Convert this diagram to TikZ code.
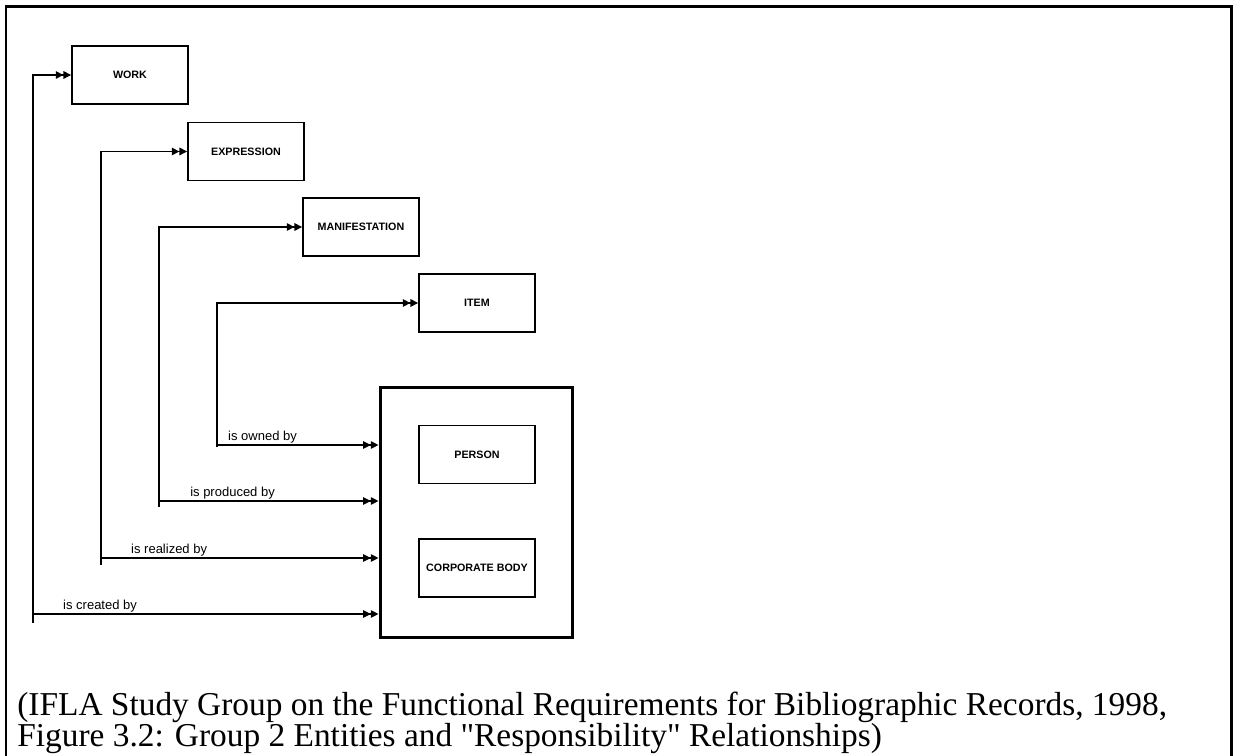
\documentclass[tikz,border=0pt]{standalone}
\usepackage{fontspec}
\newfontfamily\serifa{Liberation Serif}
\newfontfamily\arial{Liberation Sans}
\usetikzlibrary{arrows.meta}

\begin{document}
\begin{tikzpicture}[x=0.02cm, y=-0.02cm]
        \tikzstyle{caixa}=[draw=black, line width=0.9pt, inner sep=0pt, minimum width=2.32cm, minimum height=1.16cm, font=\arial\bfseries\fontsize{6.1}{7}\selectfont]
        \tikzstyle{grupo}=[draw=black, line width=1.7pt, inner sep=0pt, minimum width=3.86cm, minimum height=5.02cm]
        \tikzstyle{seta}=[line width=0.9pt, -{Triangle[length=4.4pt,width=4.2pt] Triangle[length=4.4pt,width=4.2pt]}]
        \tikzstyle{rotulo}=[anchor=base west, inner sep=0pt, font=\arial\fontsize{7.4}{9}\selectfont]
        \tikzstyle{legenda}=[anchor=base west, inner sep=0pt, font=\serifa\fontsize{19}{22}\selectfont]

        \useasboundingbox (0,0) rectangle (1236,756);
        \draw[line width=1.7pt] (6,756) -- (6,7) -- (1231,7) -- (1231,756);

        \node (work) at (130,75)[caixa]{WORK};
        \node (expression) at (246,151.5)[caixa]{EXPRESSION};
        \node (manifestation) at (361,227)[caixa]{MANIFESTATION};
        \node (item) at (477,303)[caixa]{ITEM};

        \node (agentes) at (476.5,512.5)[grupo]{};
        \node (person) at (477,454.5)[caixa]{PERSON};
        \node (corporate) at (477,568)[caixa]{CORPORATE BODY};

        \coordinate (bw) at (33,623);
        \coordinate (be) at (101,565);
        \coordinate (bm) at (159,507);
        \coordinate (bi) at (217,447);

        \coordinate (cw) at (33,614);
        \coordinate (ce) at (101,558);
        \coordinate (cm) at (159,501);
        \coordinate (ci) at (217,445);

        \draw[seta] (bw) |- (work.west);
        \draw[seta] (be) |- (expression.west);
        \draw[seta] (bm) |- (manifestation.west);
        \draw[seta] (bi) |- (item.west);

        \draw[seta] (cw) -- (cw -| agentes.west);
        \draw[seta] (ce) -- (ce -| agentes.west);
        \draw[seta] (cm) -- (cm -| agentes.west);
        \draw[seta] (ci) -- (ci -| agentes.west);

        \node at (ci)[rotulo, xshift=6.2pt, yshift=2.8pt]{is owned by};
        \node at (cm)[rotulo, xshift=17.6pt, yshift=2.8pt]{is produced by};
        \node at (ce)[rotulo, xshift=17pt, yshift=2.8pt]{is realized by};
        \node at (cw)[rotulo, xshift=17pt, yshift=2.8pt]{is created by};

        \node (legenda1) at (17,715)[legenda]{(IFLA Study Group on the Functional Requirements for Bibliographic Records, 1998,};
        \node (legenda2) at (17,746)[legenda]{Figure 3.2: Group 2 Entities and "Responsibility" Relationships)};
\end{tikzpicture}
\end{document}
